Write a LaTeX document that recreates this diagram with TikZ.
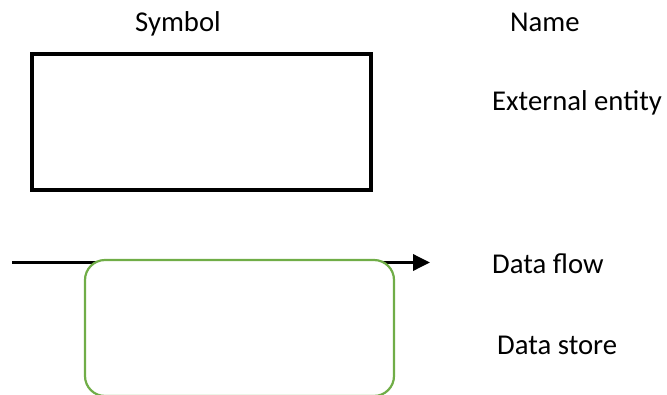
\documentclass[tikz,border=0pt]{standalone}
\usepackage{fontspec}
\setmainfont{Carlito}
\usetikzlibrary{arrows.meta}
\definecolor{storegreen}{RGB}{112,173,71}
\tikzset{
  label text/.style={anchor=base west, inner sep=0pt, font=\fontsize{28.7}{33}\selectfont},
  entitybox/.style={draw=black, line width=3.6pt, inner sep=0pt, minimum width=339pt, minimum height=136pt},
  storebox/.style={draw=storegreen, fill=white, line width=2.2pt, rounded corners=20pt, inner sep=0pt, minimum width=309pt, minimum height=136pt},
  flowline/.style={line width=3.5pt, -{Triangle[length=17pt,width=16pt]}}
}
\begin{document}
\begin{tikzpicture}[x=1pt, y=-1pt]
  \useasboundingbox (0,0) rectangle (667,394);
  % column headings
  \node[label text] (hsym) at (135,31) {Symbol};
  \node[label text] (hname) at (510,31) {Name};
  % external entity
  \node[entitybox] (entity) at (201.5,122) {};
  \node[label text] (lentity) at (492,110) {External entity};
  % data flow arrow
  \coordinate (flowstart) at (12,262.5);
  \coordinate (flowend) at (430,262.5);
  \draw[flowline] (flowstart) -- (flowend);
  \node[label text] (lflow) at (492,273) {Data flow};
  % data store, drawn over the arrow; its lower edge runs past the page
  \node[storebox] (store) at (239.5,328) {};
  \node[label text] (lstore) at (497,354) {Data store};
\end{tikzpicture}
\end{document}
